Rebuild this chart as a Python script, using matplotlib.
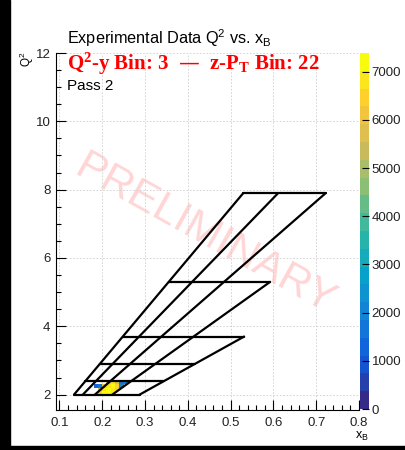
import matplotlib
matplotlib.use("Agg")
import matplotlib.pyplot as plt
import numpy as np
from matplotlib.colors import LinearSegmentedColormap, Normalize
from matplotlib.patches import Rectangle

plt.rcParams['font.family'] = ['Liberation Sans', 'DejaVu Sans']
plt.rcParams['mathtext.default'] = 'regular'

# beam energy and proton mass -> y = Q2 / (2 M E xB)
beam_E = 10.6
m_p = 0.938

# Q2 bin edges and y bin edges of the Q2-y binning
q2_edges = [2.0, 2.4, 2.9, 3.7, 5.3, 7.9]
y_edges = [0.75, 0.65, 0.55, 0.45, 0.35]
# lowest y edge used in each Q2 row
row_y_min = [0.35, 0.35, 0.35, 0.45, 0.55]

# data histogram for z-PT bin 22 (counts)
hx_edges = [0.18, 0.19, 0.20, 0.21, 0.22, 0.23, 0.24, 0.25, 0.26]
hy_edges = [2.0, 2.1, 2.2, 2.3, 2.4]
counts = [
    [0, 6400, 7100, 7300, 6900, 0, 0, 0],
    [0, 5200, 6800, 7200, 7000, 6500, 0, 0],
    [1200, 1800, 6000, 6900, 7100, 6600, 2200, 0],
    [0, 0, 0, 6200, 6800, 5800, 1500, 1900],
]
z_max = 7390

cbar_ticks = [0, 1000, 2000, 3000, 4000, 5000, 6000, 7000]

# ROOT kBird palette
bird_r = [0.2082, 0.0592, 0.0780, 0.0232, 0.1802, 0.5301, 0.8186, 0.9956, 0.9764]
bird_g = [0.1664, 0.3599, 0.5041, 0.6419, 0.7178, 0.7492, 0.7328, 0.7862, 0.9832]
bird_b = [0.5293, 0.8684, 0.8385, 0.7914, 0.6425, 0.4662, 0.3499, 0.1968, 0.0539]
bird = LinearSegmentedColormap.from_list(
    "bird", list(zip(bird_r, bird_g, bird_b)), N=20)


def xb_of(q2, y):
    return q2 / (2 * m_p * beam_E * y)


W, H = 406, 450
fig = plt.figure(figsize=(W / 100, H / 100), dpi=100)
ax = fig.add_axes([56 / W, 1 - 410 / H, (359 - 56) / W, (410 - 53) / H])
cax = fig.add_axes([360 / W, 1 - 409 / H, 9 / W, (409 - 53) / H])

# histogram
z = np.ma.masked_equal(np.array(counts, dtype=float), 0)
norm = Normalize(vmin=0, vmax=z_max)
mesh = ax.pcolormesh(hx_edges, hy_edges, z, cmap=bird, norm=norm, zorder=1)

# horizontal Q2 edges
for i, q2 in enumerate(q2_edges):
    if i == 0:
        ymin = row_y_min[0]
    elif i == len(q2_edges) - 1:
        ymin = row_y_min[-1]
    else:
        ymin = min(row_y_min[i - 1], row_y_min[i])
    ax.plot([xb_of(q2, y_edges[0]), xb_of(q2, ymin)], [q2, q2],
            color='black', lw=1.6, zorder=3, solid_capstyle='round')

# diagonal lines of constant y
for y in y_edges:
    rows = [k for k in range(len(row_y_min)) if row_y_min[k] <= y]
    q_lo = q2_edges[rows[0]]
    q_hi = q2_edges[rows[-1] + 1]
    ax.plot([xb_of(q_lo, y), xb_of(q_hi, y)], [q_lo, q_hi],
            color='black', lw=1.6, zorder=3, solid_capstyle='round')

ax.set_xlim(0.092, 0.8)
ax.set_ylim(1.55, 12)
ax.set_xticks(np.arange(0.1, 0.81, 0.1))
ax.set_xticks(np.arange(0.1, 0.8, 0.02), minor=True)
ax.set_yticks(np.arange(2, 12.1, 2))
ax.set_yticks(np.arange(2, 12, 0.5), minor=True)
ax.set_xticklabels(["%.1f" % v for v in np.arange(0.1, 0.81, 0.1)])
ax.tick_params(which='both', direction='in', labelsize=9.5, colors='black',
               labelcolor='#222222')
ax.tick_params(which='major', length=7, width=0.8)
ax.tick_params(which='minor', length=3.5, width=0.8)
ax.tick_params(axis='x', pad=5)
ax.tick_params(axis='y', pad=4)
ax.grid(True, which='major', color='#cfcfcf', lw=0.6, ls=(0, (2, 2)), zorder=0)
ax.spines['top'].set_visible(False)
ax.spines['right'].set_visible(False)
ax.set_axisbelow(True)

ax.text(0.44, 6.67, "PRELIMINARY", rotation=-29, fontsize=31, color='red',
        alpha=0.17, ha='center', va='center', zorder=0.5)

# colour scale
cb = fig.colorbar(mesh, cax=cax, ticks=cbar_ticks)
cb.outline.set_visible(False)
cax.tick_params(direction='in', length=5, width=0.8, labelsize=9.5, pad=2,
                labelcolor='#222222')

fig.text(67 / W, 1 - 38 / H, "Experimental Data Q$^2$ vs. x$_B$",
         fontsize=11.7, ha='left', va='center')
fig.text(67 / W, 1 - 64 / H, "Q$^{2}$-y Bin: 3  —  z-P$_{T}$ Bin: 22",
         fontsize=15, color='red', fontweight='bold',
         family='Liberation Serif', ha='left', va='center')
fig.text(67 / W, 1 - 86 / H, "Pass 2", fontsize=11, ha='left', va='center')
fig.text(27 / W, 1 - 52 / H, "Q$^2$", fontsize=8.5, rotation=90,
         ha='center', va='top')
fig.text(369 / W, 1 - 430 / H, "x$_B$", fontsize=9, ha='right', va='top')

# dark border strips
fig.patches.append(Rectangle((0, 0), 10 / W, 1, transform=fig.transFigure,
                             color='black', zorder=10))
fig.patches.append(Rectangle((0, 0), 1, 4 / H, transform=fig.transFigure,
                             color='black', zorder=10))

fig.savefig("out.png", dpi=100)
